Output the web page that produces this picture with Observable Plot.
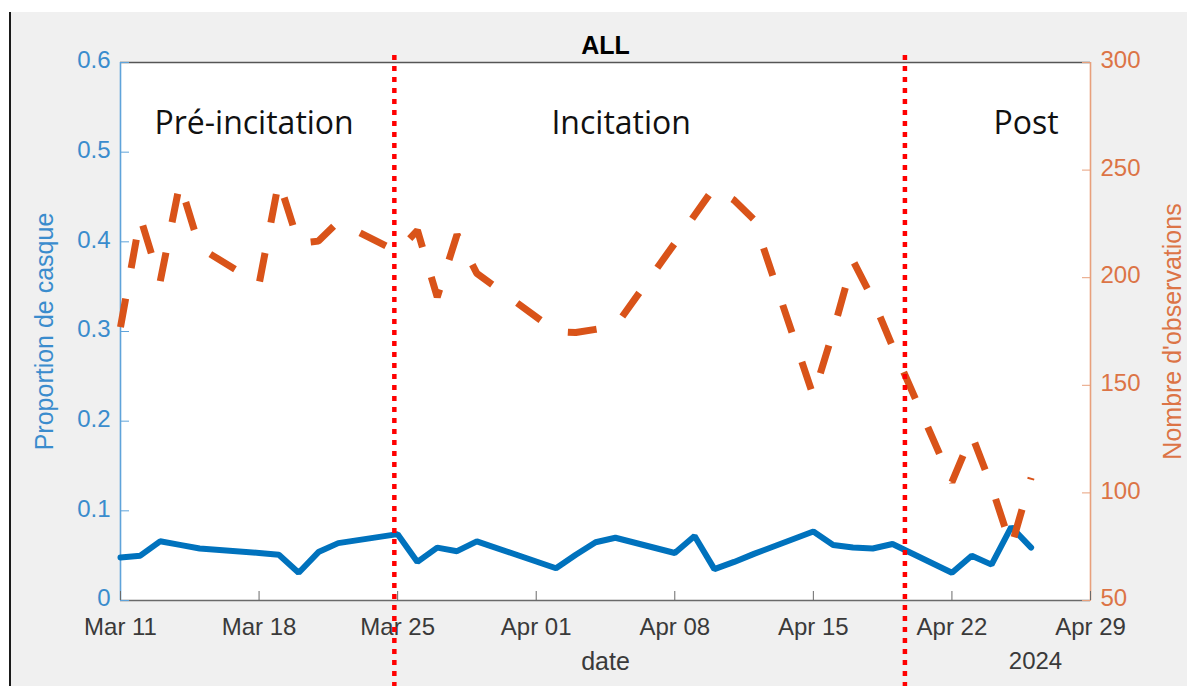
<!DOCTYPE html>
<html><head><meta charset="utf-8">
<script src="https://cdn.jsdelivr.net/npm/d3@7"></script>
<script src="https://cdn.jsdelivr.net/npm/@observablehq/plot@0.6"></script>
<style>
html,body{margin:0;padding:0;background:#fff;width:1187px;height:686px;overflow:hidden;}
#bg{position:absolute;left:9px;top:12px;right:0;bottom:0;background:#f0f0f0;border-left:2px solid #1a1a1a;}
#chart{position:absolute;left:0;top:0;}
</style></head><body><div id="bg"></div><div id="chart"></div>
<script>
// ---- data ----
const dates = ["2024-03-11","2024-03-12","2024-03-13","2024-03-14","2024-03-15",
  "2024-03-18","2024-03-19","2024-03-20","2024-03-21","2024-03-22",
  "2024-03-25","2024-03-26","2024-03-27","2024-03-28","2024-03-29",
  "2024-04-02","2024-04-03","2024-04-04","2024-04-05",
  "2024-04-08","2024-04-09","2024-04-10","2024-04-11","2024-04-12",
  "2024-04-15","2024-04-16","2024-04-17","2024-04-18","2024-04-19",
  "2024-04-22","2024-04-23","2024-04-24","2024-04-25","2024-04-26"];
const proportion = [0.048,0.050,0.066,0.062,0.058,
  0.053,0.051,0.031,0.054,0.064,
  0.074,0.043,0.059,0.055,0.066,
  0.036,0.051,0.065,0.070,
  0.053,0.072,0.035,0.043,0.052,
  0.077,0.062,0.059,0.058,0.063,
  0.031,0.050,0.040,0.082,0.059];
const observations = [177,228,198,244,214,
  197,245,216,217,226,
  212,222,191,220,202,
  175,174.5,176,177.5,
  216,229,242,236,227,
  145,175,208,190,168,
  105,127,103,75,107];
const xTickLabels = ["2024-03-11","2024-03-18","2024-03-25","2024-04-01","2024-04-08","2024-04-15","2024-04-22","2024-04-29"];
const leftDomain = [0, 0.6];
const leftTicks = [0, 0.1, 0.2, 0.3, 0.4, 0.5, 0.6];
const rightDomain = [50, 300];
const rightTicks = [50, 100, 150, 200, 250, 300];
const phaseBreaks = ["2024-03-24T20:00Z","2024-04-19T15:00Z"];
const phaseLabels = ["Pré-incitation","Incitation","Post"];
const phaseLabelDates = ["2024-03-17T18:00Z","2024-04-05T07:00Z","2024-04-25T18:00Z"];
const phaseLabelY = 0.532;

// ---- build ----
const parse = s => new Date(s.length === 10 ? s + "T00:00Z" : s);
const rows = dates.map((d, i) => ({date: parse(d), prop: proportion[i], obs: observations[i]}));
const xTickDates = xTickLabels.map(parse);
const toLeft = v => leftDomain[0] + (v - rightDomain[0]) / (rightDomain[1] - rightDomain[0]) * (leftDomain[1] - leftDomain[0]);
const fromLeft = y => rightDomain[0] + (y - leftDomain[0]) / (leftDomain[1] - leftDomain[0]) * (rightDomain[1] - rightDomain[0]);
const blue = "#0072BD", orange = "#D95319";
const fmt = d3.utcFormat("%b %d");

const chart = Plot.plot({
  width: 1187, height: 686,
  marginLeft: 120, marginRight: 97, marginTop: 62, marginBottom: 86,
  style: {background: "transparent", fontFamily: "'Liberation Sans', Arial, sans-serif", overflow: "visible"},
  x: {type: "utc", domain: [xTickDates[0], xTickDates[xTickDates.length - 1]]},
  y: {domain: leftDomain},
  marks: [
    Plot.frame({fill: "white", stroke: null}),
    Plot.ruleY([leftDomain[1]], {stroke: "#555", strokeWidth: 1.3}),
    Plot.ruleY([leftDomain[0]], {stroke: "#6a6a6a", strokeWidth: 1.6}),
    Plot.ruleX([xTickDates[0]], {stroke: "#5fa3da", strokeWidth: 1.6}),
    Plot.ruleX([xTickDates[xTickDates.length - 1]], {stroke: "#e8a07c", strokeWidth: 1.6}),
    Plot.axisX({ticks: xTickDates, tickSize: -9, tickFormat: () => "", stroke: "#6a6a6a", label: null}),
    Plot.axisX({ticks: xTickDates, tickSize: 0, tickPadding: 17, tickFormat: fmt, fontSize: 24, fill: "#3a3a3a", label: null}),
    Plot.axisY({ticks: leftTicks, tickSize: -9, tickFormat: () => "", stroke: "#5fa3da", label: null}),
    Plot.axisY({ticks: leftTicks, tickSize: 0, tickPadding: 10, dy: -2, tickFormat: d => String(d), fontSize: 24, fill: "#3a8ccd", label: null}),
    Plot.axisY({anchor: "right", ticks: rightTicks.map(toLeft), tickSize: -9, tickFormat: () => "", stroke: "#e8a07c", label: null}),
    Plot.axisY({anchor: "right", ticks: rightTicks.map(toLeft), tickSize: 0, tickPadding: 10, dy: -2, tickFormat: d => String(Math.round(fromLeft(d))), fontSize: 24, fill: "#dc7446", label: null}),
    Plot.line(rows, {x: "date", y: "prop", stroke: blue, strokeWidth: 6, strokeLinejoin: "miter"}),
    Plot.line(rows, {x: "date", y: d => toLeft(d.obs), stroke: orange, strokeWidth: 7, strokeDasharray: "29,31", strokeLinecap: "butt", strokeLinejoin: "miter"}),
    Plot.ruleX(phaseBreaks.map(parse), {x: d => d, stroke: "#ff0000", strokeWidth: 4.5, strokeDasharray: "5,6", insetTop: -7, insetBottom: -86}),
    Plot.text(phaseLabels, {x: (d, i) => parse(phaseLabelDates[i]), y: () => phaseLabelY, text: d => d, fontSize: 32, fontFamily: "'Open Sans', sans-serif", fill: "#111"}),
    Plot.text(["ALL"], {frameAnchor: "top", lineAnchor: "middle", dy: -17, fontSize: 25, fontWeight: "bold", fill: "#000"}),
    Plot.text(["date"], {frameAnchor: "bottom", lineAnchor: "middle", dy: 61, fontSize: 25, fill: "#3a3a3a"}),
    Plot.text(["2024"], {frameAnchor: "bottom-right", textAnchor: "middle", lineAnchor: "middle", dx: -55, dy: 61, fontSize: 24, fill: "#3a3a3a"}),
    Plot.text(["Proportion de casque"], {frameAnchor: "left", textAnchor: "middle", lineAnchor: "middle", dx: -76, rotate: -90, fontSize: 25, fill: "#3a8ccd"}),
    Plot.text(["Nombre d'observations"], {frameAnchor: "right", textAnchor: "middle", lineAnchor: "middle", dx: 82, rotate: -90, fontSize: 25, fill: "#dc7446"})
  ]
});
document.getElementById("chart").appendChild(chart);
</script></body></html>
